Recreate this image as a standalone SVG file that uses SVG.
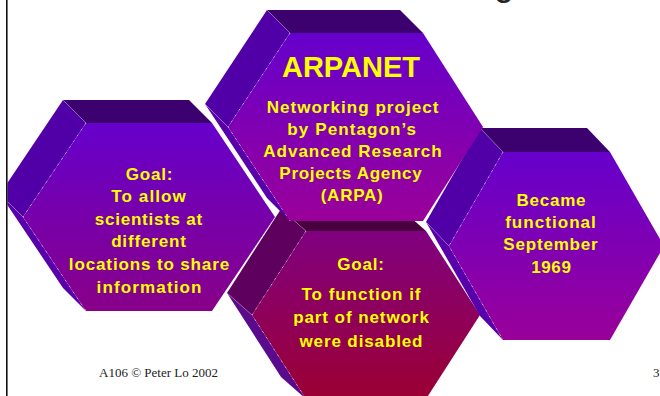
<svg xmlns="http://www.w3.org/2000/svg" width="660" height="396" viewBox="0 0 660 396">
<defs>
<style>
.t{font-family:"Liberation Sans",Arial,sans-serif;font-weight:bold;fill:#ffff00;text-anchor:middle;font-size:17px}
.big{font-size:29px}
.foot{font-family:"Liberation Serif","Times New Roman",serif;font-size:13px;fill:#222}
.topP{fill:#3d006f}.ulP{fill:#5000a6}.llP{fill:#5800aa}
.topM{fill:#48003f}.ulM{fill:#5e005e}.llM{fill:#5a0a8c}
.seam{stroke:#ffffff;stroke-opacity:0.35;stroke-width:0.6;fill:none}
.hl{stroke:#ffffff;stroke-opacity:0.6;stroke-width:0.8;stroke-dasharray:2 5;fill:none}
</style>
<linearGradient id="gL" x1="0" y1="0" x2="0" y2="1"><stop offset="0" stop-color="#6600cc"/><stop offset="1" stop-color="#880088"/></linearGradient>
<linearGradient id="gA" x1="0" y1="0" x2="0" y2="1"><stop offset="0" stop-color="#6600cc"/><stop offset="1" stop-color="#9a0099"/></linearGradient>
<linearGradient id="gR" x1="0" y1="0" x2="0" y2="1"><stop offset="0" stop-color="#6600cc"/><stop offset="1" stop-color="#990099"/></linearGradient>
<linearGradient id="gM" x1="0" y1="0" x2="0" y2="1"><stop offset="0" stop-color="#800080"/><stop offset="1" stop-color="#9c0033"/></linearGradient>
<clipPath id="clipL"><rect x="7.5" y="0" width="660" height="396"/></clipPath>
</defs>
<rect x="0" y="0" width="660" height="396" fill="#ffffff"/>
<text x="494" y="-5.5" style="font-family:'Liberation Sans',Arial,sans-serif;font-size:36px;fill:#222">g</text>

<g id="hex-goal-share" clip-path="url(#clipL)">
<polygon class="llP" points="0,194 23,217 86,311 63,288"/>
<polygon class="ulP" points="0,194 63,100 86,123 23,217"/>
<polygon class="topP" points="63,100 189,100 212,123 86,123"/>
<polygon fill="url(#gL)" points="86,123 212,123 275,217 212,311 86,311 23,217"/>
<polyline class="seam" points="63,100 86,123"/>
<polyline class="seam" points="0,194 23,217"/>
<polyline class="hl" points="86,123 23,217 86,311"/>
<text class="t" x="149" y="180" textLength="46.7" lengthAdjust="spacing">Goal:</text>
<text class="t" x="148.5" y="202" textLength="74.7" lengthAdjust="spacing">To allow</text>
<text class="t" x="148.5" y="225" textLength="107.3" lengthAdjust="spacing">scientists at</text>
<text class="t" x="148.5" y="247.3" textLength="74.7" lengthAdjust="spacing">different</text>
<text class="t" x="149" y="269.5" textLength="160.3" lengthAdjust="spacing">locations to share</text>
<text class="t" x="149" y="293" textLength="105" lengthAdjust="spacing">information</text>
</g>

<g id="hex-goal-function">
<polygon class="llM" points="227,293 252,315 306,399 281,377"/>
<polygon class="ulM" points="227,293 281,209 306,231 252,315"/>
<polygon class="topM" points="281,209 401,209 426,231 306,231"/>
<polygon fill="url(#gM)" points="306,231 426,231 480,315 426,399 306,399 252,315"/>
<polyline class="seam" points="281,209 306,231"/>
<polyline class="seam" points="227,293 252,315"/>
<polyline class="hl" points="306,231 252,315 306,399"/>
<text class="t" x="360.5" y="270" textLength="46.7" lengthAdjust="spacing">Goal:</text>
<text class="t" x="361" y="300" textLength="119" lengthAdjust="spacing">To function if</text>
<text class="t" x="361" y="323.3" textLength="135.7" lengthAdjust="spacing">part of network</text>
<text class="t" x="361" y="346.5" textLength="123" lengthAdjust="spacing">were disabled</text>
</g>

<g id="hex-functional">
<polygon class="llP" points="426,222 449,246 503,340 480,316"/>
<polygon class="ulP" points="426,222 480,128 503,152 449,246"/>
<polygon class="topP" points="480,128 587,128 610,152 503,152"/>
<polygon fill="url(#gR)" points="503,152 610,152 664,246 610,340 503,340 449,246"/>
<polyline class="seam" points="480,128 503,152"/>
<polyline class="seam" points="426,222 449,246"/>
<polyline class="hl" points="503,152 449,246 503,340"/>
<text class="t" x="551" y="206" textLength="69" lengthAdjust="spacing">Became</text>
<text class="t" x="550.5" y="228.3" textLength="90.7" lengthAdjust="spacing">functional</text>
<text class="t" x="550.5" y="250" textLength="94.3" lengthAdjust="spacing">September</text>
<text class="t" x="551" y="272.5" textLength="39.7" lengthAdjust="spacing">1969</text>
</g>

<g id="hex-arpanet">
<polygon class="llP" points="205,104 228,127 290,221 267,198"/>
<polygon class="ulP" points="205,104 267,10 290,33 228,127"/>
<polygon class="topP" points="267,10 400,10 423,33 290,33"/>
<polygon fill="url(#gA)" points="290,33 423,33 483,127 423,221 290,221 228,127"/>
<polyline class="seam" points="267,10 290,33"/>
<polyline class="seam" points="205,104 228,127"/>
<polyline class="hl" points="290,33 228,127 290,221"/>
<text class="t big" x="351" y="77">ARPANET</text>
<text class="t" x="352.5" y="113" textLength="171.7" lengthAdjust="spacing">Networking project</text>
<text class="t" x="351.7" y="135" textLength="128.7" lengthAdjust="spacing">by Pentagon’s</text>
<text class="t" x="352.5" y="157" textLength="178.3" lengthAdjust="spacing">Advanced Research</text>
<text class="t" x="350.5" y="179" textLength="142.3" lengthAdjust="spacing">Projects Agency</text>
<text class="t" x="351.7" y="201" textLength="62" lengthAdjust="spacing">(ARPA)</text>
</g>

<line x1="6.8" y1="0" x2="6.8" y2="396" stroke="#111" stroke-width="1.6"/>
<text class="foot" x="99" y="377">A106 © Peter Lo 2002</text>
<text class="foot" x="653" y="377">3</text>
</svg>
